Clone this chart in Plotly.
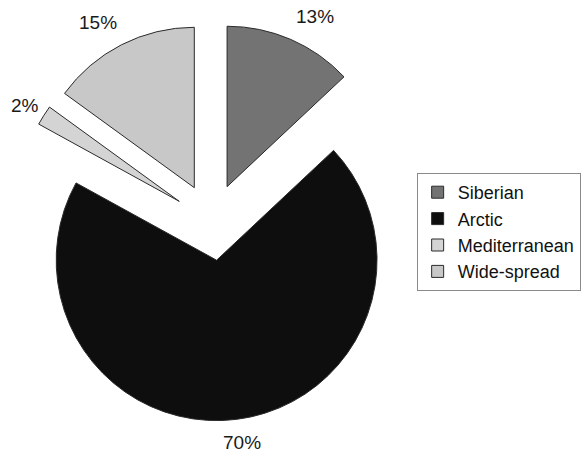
import plotly.graph_objects as go

categories = ["Siberian", "Arctic", "Mediterranean", "Wide-spread"]
percent_values = [13, 70, 2, 15]

slice_colors = ["#737373", "#0e0e0e", "#d4d4d4", "#c8c8c8"]
label_pos = [(318, 17), (245, 442), (25, 105), (99, 23)]  # pixel centres of the % labels

W, H = 581, 454

fig = go.Figure()
fig.add_trace(go.Pie(
    labels=categories,
    values=percent_values,
    sort=False,
    direction="clockwise",
    rotation=0,
    pull=[0.24] * len(categories),
    textinfo="none",
    hoverinfo="label+percent",
    marker=dict(colors=slice_colors, line=dict(color="#2a2a2a", width=1)),
    domain=dict(x=[13 / W, 415 / W], y=[1 - 423 / H, 1 - 21 / H]),
))

for cat, v, (px, py) in zip(categories, percent_values, label_pos):
    fig.add_annotation(
        x=px / W, y=1 - py / H, xref="paper", yref="paper",
        text=f"{v}%", showarrow=False,
        font=dict(family="Liberation Sans, Arial, sans-serif", size=19, color="#1a1a1a"),
        xanchor="center", yanchor="middle",
    )

fig.update_layout(
    width=W, height=H,
    margin=dict(l=0, r=0, t=0, b=0),
    paper_bgcolor="white",
    plot_bgcolor="white",
    showlegend=True,
    legend=dict(
        x=421 / W, y=1 - 173 / H, xanchor="left", yanchor="top",
        font=dict(family="Liberation Sans, Arial, sans-serif", size=18, color="#111111"),
        bgcolor="white", bordercolor="#8a8a8a", borderwidth=1,
        itemwidth=30, traceorder="normal",
    ),
)

fig.write_html("out.html")
